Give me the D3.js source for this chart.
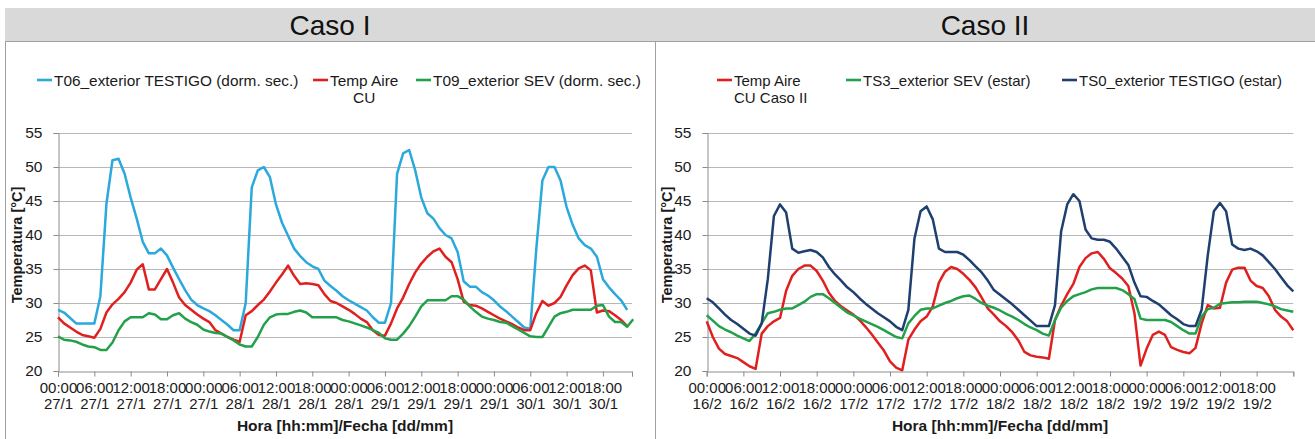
<!DOCTYPE html>
<html><head><meta charset="utf-8">
<script src="https://cdn.jsdelivr.net/npm/d3@7"></script>
<style>
body{margin:0;background:#fff;}
text{font-family:"Liberation Sans",Arial,sans-serif;fill:#1a1a1a;}
</style>
</head><body>
<svg id="c" width="1315" height="439"></svg>
<script>
// ---------- DATA ----------
const panelTitles = ["Caso I", "Caso II"];
const yTicks = [20, 25, 30, 35, 40, 45, 50, 55];
const timeLabels = ["00:00","06:00","12:00","18:00","00:00","06:00","12:00","18:00",
                    "00:00","06:00","12:00","18:00","00:00","06:00","12:00","18:00"];
const datesCaso1 = ["27/1","27/1","27/1","27/1","27/1","28/1","28/1","28/1",
                    "28/1","29/1","29/1","29/1","29/1","30/1","30/1","30/1"];
const datesCaso2 = ["16/2","16/2","16/2","16/2","17/2","17/2","17/2","17/2",
                    "18/2","18/2","18/2","18/2","19/2","19/2","19/2","19/2"];
const yTitle = "Temperatura [°C]";
const xTitle = "Hora [hh:mm]/Fecha [dd/mm]";

// Caso I series (hourly readings, hour 0 = 00:00 27/1)
const seriesNames1 = ["T06_exterior TESTIGO (dorm. sec.)", "Temp Aire|CU", "T09_exterior SEV (dorm. sec.)"];
const t06Testigo = [29.0,28.6,27.8,27.0,27.0,27.0,27.0,31.0,44.6,51.0,51.2,49.0,45.5,42.4,39.0,37.3,37.3,38.0,37.0,35.2,
  33.5,31.9,30.5,29.7,29.2,28.8,28.2,27.5,26.8,26.0,26.0,30.0,47.0,49.5,50.0,48.5,44.5,41.8,39.9,38.0,
  36.9,36.0,35.4,35.0,33.3,32.5,31.8,31.0,30.4,29.9,29.4,28.9,27.9,27.1,27.1,30.0,49.0,52.0,52.5,49.5,
  45.5,43.2,42.4,41.0,40.0,39.5,37.5,33.2,32.4,32.4,31.6,31.1,30.4,29.5,28.8,28.0,27.2,26.4,26.2,38.0,
  48.0,50.0,50.0,48.0,44.1,41.5,39.5,38.5,38.0,36.8,33.5,32.3,31.3,30.4,29.0];
const tempAireCU1 = [27.9,27.0,26.4,25.8,25.3,25.1,24.9,26.2,28.6,29.8,30.6,31.6,33.0,34.9,35.7,32.0,32.0,33.5,35.0,33.0,
  30.8,29.7,29.0,28.3,27.7,27.2,26.0,25.5,25.0,24.6,24.3,28.2,28.8,29.7,30.5,31.7,33.0,34.2,35.5,34.0,
  32.8,32.9,32.8,32.6,31.3,30.3,30.0,29.5,29.0,28.4,27.7,27.2,26.0,25.3,25.2,27.0,29.2,30.8,32.8,34.5,
  35.8,36.8,37.6,38.0,36.8,36.0,33.5,30.2,29.7,29.6,29.2,28.7,28.2,27.7,27.3,26.9,26.4,26.0,26.0,28.5,
  30.3,29.6,30.0,30.9,32.6,34.1,35.1,35.5,34.8,28.6,28.9,28.8,28.2,27.5,26.6];
const t09Sev = [25.1,24.6,24.5,24.3,23.9,23.6,23.5,23.1,23.1,24.2,26.0,27.3,27.9,27.9,27.9,28.5,28.3,27.6,27.6,28.2,
  28.5,27.7,27.2,26.8,26.1,25.8,25.6,25.5,25.0,24.5,23.9,23.6,23.6,25.0,26.8,27.9,28.3,28.4,28.4,28.7,
  28.9,28.6,27.9,27.9,27.9,27.9,27.9,27.5,27.3,27.0,26.7,26.4,26.0,25.6,24.8,24.6,24.6,25.5,26.6,28.0,
  29.5,30.4,30.4,30.4,30.4,31.0,31.0,30.5,29.5,28.7,28.0,27.7,27.5,27.2,27.1,26.6,26.1,25.6,25.1,25.0,
  25.0,26.5,28.0,28.5,28.7,29.0,29.0,29.0,29.0,29.6,29.7,28.0,27.2,27.2,26.5,27.6];

// Caso II series (hourly readings, hour 0 = 00:00 16/2)
const seriesNames2 = ["Temp Aire|CU Caso II", "TS3_exterior SEV (estar)", "TS0_exterior TESTIGO (estar)"];
const tempAireCU2 = [27.3,25.0,23.3,22.5,22.2,21.9,21.3,20.7,20.3,25.5,26.6,27.3,27.8,31.8,34.0,35.0,35.5,35.5,34.7,33.3,
  31.5,30.3,29.5,28.9,28.3,27.5,26.5,25.4,24.2,23.0,21.4,20.5,20.1,24.6,26.1,27.3,28.0,29.5,33.0,34.6,
  35.3,35.0,34.3,33.4,32.3,30.8,29.2,28.3,27.3,26.6,25.7,24.5,22.8,22.3,22.1,22.0,21.8,27.5,29.6,31.3,
  32.8,35.3,36.6,37.3,37.5,36.5,35.1,34.4,33.6,32.5,28.5,20.8,23.3,25.3,25.8,25.3,23.5,23.1,22.8,22.6,
  23.4,27.0,29.7,29.2,29.3,33.0,34.9,35.2,35.2,33.3,32.5,32.2,31.0,29.0,28.0,27.3,26.0];
const ts3Sev = [28.2,27.4,26.6,26.1,25.7,25.2,24.8,24.4,25.5,27.0,28.5,28.7,29.0,29.2,29.2,29.7,30.2,30.9,31.3,31.3,
  30.7,30.0,29.3,28.6,28.2,27.7,27.3,26.9,26.5,26.0,25.5,25.0,24.8,27.0,28.1,29.0,29.2,29.2,29.6,30.0,
  30.3,30.7,31.0,31.1,30.6,30.0,29.6,29.3,28.9,28.4,28.0,27.5,26.9,26.4,26.0,25.5,25.2,27.5,29.3,30.3,
  31.0,31.3,31.6,32.0,32.2,32.2,32.2,32.2,31.9,31.3,30.6,27.7,27.5,27.5,27.5,27.5,27.2,26.6,26.0,25.5,
  25.5,28.0,29.1,29.3,29.9,30.0,30.1,30.1,30.2,30.2,30.2,30.0,29.8,29.5,29.1,28.9,28.7];
const ts0Testigo = [30.7,30.1,29.2,28.3,27.5,26.9,26.2,25.5,25.2,27.0,33.5,42.8,44.5,43.3,38.0,37.4,37.6,37.8,37.5,36.7,
  35.3,34.2,33.3,32.3,31.6,30.7,29.9,29.2,28.5,27.9,27.3,26.5,26.0,29.0,39.5,43.5,44.2,42.3,38.0,37.5,
  37.5,37.5,37.1,36.3,35.4,34.5,33.3,31.9,31.2,30.5,29.8,29.0,28.2,27.4,26.6,26.6,26.6,29.7,40.5,44.5,
  46.0,45.0,40.8,39.5,39.3,39.3,39.0,38.0,36.8,35.6,33.0,31.0,30.9,30.3,29.8,29.0,28.2,27.6,26.9,26.6,
  26.6,29.0,37.0,43.5,44.7,43.5,38.6,38.0,37.8,38.0,37.6,37.0,36.0,35.0,33.8,32.6,31.7];

// ---------- DRAW ----------
const svg = d3.select("#c");
const C = {blue:"#2ba8dc", red:"#e0201f", green:"#22a14a", navy:"#1e3f6f"};
const FONT = "Liberation Sans, Arial, sans-serif";

const panels = [
  {x0:5, x1:655, title:panelTitles[0], plot:{l:58, r:632}, domainEnd:94.8, dates:datesCaso1,
   series:[{v:t06Testigo,c:C.blue},{v:tempAireCU1,c:C.red},{v:t09Sev,c:C.green}],
   legend:[{name:seriesNames1[0],c:C.blue,lx:37,align:"left"},
           {name:seriesNames1[1],c:C.red,lx:313,align:"center"},
           {name:seriesNames1[2],c:C.green,lx:416,align:"left"}],
   yTitleX:17},
  {x0:655, x1:1315, title:panelTitles[1], plot:{l:706.7, r:1293.3}, domainEnd:96, dates:datesCaso2,
   series:[{v:tempAireCU2,c:C.red},{v:ts3Sev,c:C.green},{v:ts0Testigo,c:C.navy}],
   legend:[{name:seriesNames2[0],c:C.red,lx:717,align:"left"},
           {name:seriesNames2[1],c:C.green,lx:846,align:"left"},
           {name:seriesNames2[2],c:C.navy,lx:1062,align:"left"}],
   yTitleX:667}
];

const yTop = 133, yBot = 371;

panels.forEach((p, pi) => {
  const g = svg.append("g");
  // header band
  g.append("rect").attr("x", p.x0).attr("y", 8).attr("width", p.x1 - p.x0).attr("height", 33).attr("fill", "#d9d9d9");
  g.append("line").attr("x1", p.x0).attr("x2", p.x1).attr("y1", 41.5).attr("y2", 41.5).attr("stroke", "#a0a0a0");
  g.append("text").attr("x", (p.x0 + p.x1) / 2).attr("y", 35).attr("text-anchor", "middle")
    .style("font-size", "28px").style("fill", "#111").text(p.title);
  g.append("line").attr("x1", p.x0 + 0.5).attr("x2", p.x0 + 0.5).attr("y1", 41).attr("y2", 439).attr("stroke", "#a0a0a0");

  const x = d3.scaleLinear().domain([0, p.domainEnd]).range([p.plot.l, p.plot.r]);
  const y = d3.scaleLinear().domain([20, 55]).range([yBot, yTop]);

  // gridlines
  g.append("g").selectAll("line").data(yTicks.slice(1)).join("line")
    .attr("x1", p.plot.l).attr("x2", p.plot.r)
    .attr("y1", d => Math.round(y(d)) + 0.5).attr("y2", d => Math.round(y(d)) + 0.5)
    .attr("stroke", "#b8b8b8").attr("stroke-width", 1.2);

  // y axis
  const ya = g.append("g").attr("transform", `translate(${Math.round(p.plot.l) + 0.5},0)`)
    .call(d3.axisLeft(y).tickValues(yTicks).tickSize(5).tickPadding(11).tickFormat(d3.format("d")));
  ya.select(".domain").attr("stroke", "#8c8c8c");
  ya.selectAll(".tick line").attr("stroke", "#8c8c8c");
  ya.selectAll(".tick text").style("font-size", "15.5px").style("font-family", FONT).attr("fill", "#1a1a1a");

  // x axis
  const xt = timeLabels.map((_, i) => i * 6).concat([p.domainEnd]);
  const xa = g.append("g").attr("transform", `translate(0,${yBot + 0.5})`)
    .call(d3.axisBottom(x).tickValues(xt).tickSize(5).tickFormat(""));
  xa.select(".domain").attr("stroke", "#8c8c8c");
  xa.selectAll(".tick line").attr("stroke", "#8c8c8c");
  xa.selectAll(".tick").each(function(d, i) {
    if (i >= timeLabels.length) return;
    const t = d3.select(this).append("text").attr("text-anchor", "middle")
      .style("font-size", "15px").style("font-family", FONT).attr("fill", "#1a1a1a");
    t.append("tspan").attr("x", 0).attr("y", 21).text(timeLabels[i]);
    t.append("tspan").attr("x", 0).attr("y", 37).text(p.dates[i]);
  });

  // axis titles
  g.append("text").attr("x", (p.plot.l + p.plot.r) / 2).attr("y", 431).attr("text-anchor", "middle")
    .style("font-size", "15.5px").style("font-weight", "bold").text(xTitle);
  g.append("text").attr("transform", `translate(${p.yTitleX + 5},245) rotate(-90)`)
    .attr("text-anchor", "middle").style("font-size", "14.5px").style("font-weight", "bold").text(yTitle);

  // lines
  const line = d3.line().x((d, i) => x(i)).y(d => y(d));
  p.series.forEach(s => {
    g.append("path").datum(s.v).attr("d", line).attr("fill", "none")
      .attr("stroke", s.c).attr("stroke-width", 2.5).attr("stroke-linejoin", "round");
  });

  // legend
  const LF = pi === 0 ? "15.4px" : "15px";
  p.legend.forEach(L => {
    const parts = L.name.split("|");
    g.append("line").attr("x1", L.lx).attr("x2", L.lx + 15).attr("y1", 80).attr("y2", 80)
      .attr("stroke", L.c).attr("stroke-width", 2.6);
    const tx = g.append("text").style("font-size", LF);
    if (L.align === "center" && parts.length > 1) {
      tx.attr("x", L.lx + 17).attr("y", 85.5).text(parts[0]);
      const w = tx.node().getComputedTextLength();
      g.append("text").style("font-size", LF).attr("x", L.lx + 17 + w / 2).attr("y", 102.5)
        .attr("text-anchor", "middle").text(parts[1]);
    } else {
      tx.attr("x", L.lx + 17).attr("y", 85.5).text(parts[0]);
      if (parts.length > 1) g.append("text").style("font-size", LF).attr("x", L.lx + 17).attr("y", 102.5).text(parts[1]);
    }
  });
});
</script>
</body></html>
